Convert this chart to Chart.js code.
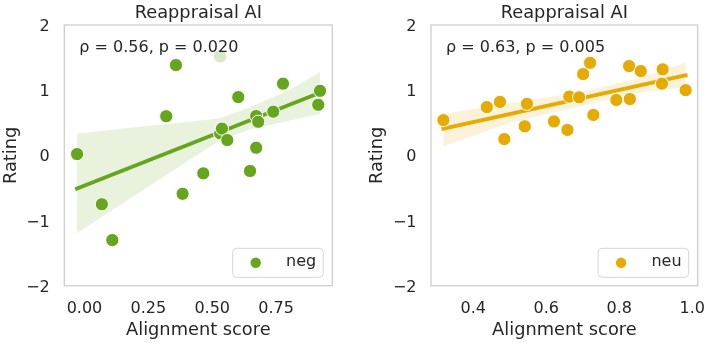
<!DOCTYPE html>
<html><head><meta charset="utf-8">
<script src="https://cdn.jsdelivr.net/npm/chart.js@4.4.1/dist/chart.umd.min.js"></script>
<style>
html,body{margin:0;padding:0;background:#fff;}
#wrap{position:relative;width:708px;height:343px;background:#fff;}
canvas{position:absolute;top:0;}
#c1{left:0}
#c2{left:354px}
</style></head><body>
<div id="wrap"><canvas id="c1" width="354" height="343"></canvas><canvas id="c2" width="354" height="343"></canvas></div>
<script>
// ---- shared text / ticks ----
const titleText = "Reappraisal AI";
const xAxisLabel = "Alignment score";
const yAxisLabel = "Rating";
const yTickValues = [-2, -1, 0, 1, 2];
const yTickLabels = ["−2", "−1", "0", "1", "2"];

// ---- panel 1: neg ----
const negLabel = "neg";
const negStats = "ρ = 0.56, p = 0.020";
const negX = [-0.029, 0.068, 0.109, 0.320, 0.358, 0.384, 0.465, 0.531, 0.538, 0.559, 0.602, 0.648, 0.672, 0.672, 0.680, 0.739, 0.777, 0.915, 0.922];
const negY = [0.02, -0.75, -1.30, 0.60, 1.385, -0.59, -0.276, 0.337, 0.41, 0.235, 0.894, -0.24, 0.117, 0.603, 0.515, 0.67, 1.10, 0.776, 0.99];
const negFadedX = [0.531];
const negFadedY = [1.52];
const negLineX = [-0.029, 0.922];
const negLineY = [-0.51, 0.96];
const negBandX = [-0.029, 0.2, 0.4, 0.53, 0.65, 0.8, 0.922];
const negBandHigh = [0.33, 0.43, 0.51, 0.57, 0.74, 1.0, 1.28];
const negBandLow = [-1.19, -0.61, -0.10, 0.23, 0.40, 0.53, 0.64];
const negXTicks = [0, 0.25, 0.5, 0.75];
const negXTickLabels = ["0.00", "0.25", "0.50", "0.75"];
const negXRange = [-0.079, 0.970];

// ---- panel 2: neu ----
const neuLabel = "neu";
const neuStats = "ρ = 0.63, p = 0.005";
const neuX = [0.318, 0.437, 0.473, 0.485, 0.541, 0.547, 0.621, 0.658, 0.663, 0.690, 0.701, 0.720, 0.729, 0.792, 0.827, 0.829, 0.859, 0.919, 0.917, 0.982];
const neuY = [0.54, 0.74, 0.82, 0.25, 0.445, 0.79, 0.52, 0.39, 0.90, 0.89, 1.247, 1.42, 0.62, 0.85, 1.37, 0.864, 1.293, 1.32, 1.10, 1.0];
const neuFadedX = [];
const neuFadedY = [];
const neuLineX = [0.318, 0.982];
const neuLineY = [0.41, 1.23];
const neuBandX = [0.318, 0.5, 0.69, 0.85, 0.982];
const neuBandHigh = [0.64, 0.80, 0.97, 1.18, 1.42];
const neuBandLow = [0.14, 0.50, 0.75, 0.96, 1.05];
const neuXTicks = [0.4, 0.6, 0.8, 1.0];
const neuXTickLabels = ["0.4", "0.6", "0.8", "1.0"];
const neuXRange = [0.284, 1.015];

const FONT = '"DejaVu Sans", "Liberation Sans", sans-serif';
const TEXT = '#262626';

function pts(xs, ys) { return xs.map((x, i) => ({x: x, y: ys[i]})); }

function makeChart(id, cfg) {
  const overlay = {
    id: 'overlay',
    afterDraw(chart) {
      const ctx = chart.ctx, ca = chart.chartArea;
      const xs = chart.scales.x, ys = chart.scales.y;
      ctx.save();
      // frame
      ctx.strokeStyle = '#cccccc';
      ctx.lineWidth = 1.25;
      ctx.strokeRect(ca.left, ca.top, ca.right - ca.left, ca.bottom - ca.top);
      ctx.fillStyle = TEXT;
      // tick labels
      ctx.font = '16px ' + FONT;
      ctx.textBaseline = 'alphabetic';
      ctx.textAlign = 'right';
      yTickValues.forEach((v, i) => {
        ctx.fillText(yTickLabels[i], ca.left - 14.5, ys.getPixelForValue(v) + 6);
      });
      ctx.textAlign = 'center';
      cfg.xt.forEach((v, i) => {
        ctx.fillText(cfg.xtl[i], xs.getPixelForValue(v), ca.bottom + 27.6);
      });
      // title
      ctx.font = '17.8px ' + FONT;
      ctx.fillText(titleText, (ca.left + ca.right) / 2, 18);
      // stats annotation
      ctx.font = '16px ' + FONT;
      ctx.textAlign = 'left';
      ctx.fillText(cfg.stats, ca.left + 15, ca.top + 26.7);
      // legend
      const bw = 90.6, bh = 29;
      const bx = ca.right - 9 - bw, by = ca.bottom - 8.4 - bh;
      ctx.beginPath();
      ctx.roundRect(bx, by, bw, bh, 4);
      ctx.fillStyle = 'rgba(255,255,255,0.8)';
      ctx.fill();
      ctx.strokeStyle = 'rgba(204,204,204,0.8)';
      ctx.lineWidth = 1;
      ctx.stroke();
      ctx.beginPath();
      ctx.arc(bx + 23, by + bh / 2, 5.2, 0, Math.PI * 2);
      ctx.fillStyle = cfg.color;
      ctx.fill();
      ctx.fillStyle = TEXT;
      ctx.font = '16px ' + FONT;
      ctx.fillText(cfg.label, bx + 53.3, by + 17.7);
      ctx.restore();
    }
  };
  return new Chart(document.getElementById(id), {
    type: 'scatter',
    data: {
      datasets: [
        {label: cfg.label, data: pts(cfg.x, cfg.y), backgroundColor: cfg.color, borderColor: '#ffffff', borderWidth: 1, pointRadius: 6.6, order: 0},
        {label: 'faded', data: pts(cfg.fx, cfg.fy), backgroundColor: cfg.faded, borderColor: 'rgba(255,255,255,0.6)', borderWidth: 1, pointRadius: 6.6, order: 1},
        {label: 'fit', data: pts(cfg.lx, cfg.ly), showLine: true, borderColor: cfg.color, borderWidth: 3.8, borderCapStyle: 'square', pointRadius: 0, order: 2},
        {label: 'hi', data: pts(cfg.bx, cfg.bh), showLine: true, borderWidth: 0, borderColor: 'rgba(0,0,0,0)', pointRadius: 0, fill: '+1', backgroundColor: cfg.band, order: 3},
        {label: 'lo', data: pts(cfg.bx, cfg.bl), showLine: true, borderWidth: 0, borderColor: 'rgba(0,0,0,0)', pointRadius: 0, fill: false, order: 4}
      ]
    },
    options: {
      responsive: false,
      animation: false,
      devicePixelRatio: 1,
      events: [],
      layout: {padding: {top: 25, right: cfg.padRight, bottom: 0, left: cfg.padLeft}},
      plugins: {legend: {display: false}, tooltip: {enabled: false}, title: {display: false}},
      scales: {
        x: {
          type: 'linear', min: cfg.xr[0], max: cfg.xr[1],
          grid: {display: false, drawTicks: false},
          border: {display: false},
          ticks: {display: false},
          afterBuildTicks: (s) => { s.ticks = cfg.xt.map(v => ({value: v})); },
          title: {display: true, text: xAxisLabel, color: TEXT, font: {family: FONT, size: 17.8, lineHeight: 1}, padding: {top: 0, bottom: 4}},
          afterFit: (s) => { s.height = 57.3; s.paddingLeft = 0; s.paddingRight = 0; }
        },
        y: {
          type: 'linear', min: -2, max: 2,
          grid: {display: false, drawTicks: false},
          border: {display: false},
          ticks: {display: false},
          afterBuildTicks: (s) => { s.ticks = yTickValues.map(v => ({value: v})); },
          title: {display: true, text: yAxisLabel, color: TEXT, font: {family: FONT, size: 17.8, lineHeight: 1}, padding: {top: 2, bottom: 0}},
          afterFit: (s) => { s.width = cfg.yWidth; s.paddingTop = 0; s.paddingBottom = 0; }
        }
      }
    },
    plugins: [overlay]
  });
}

makeChart('c1', {
  label: negLabel, stats: negStats, color: '#66a61e', faded: 'rgba(102,166,30,0.25)', band: 'rgba(102,166,30,0.15)',
  x: negX, y: negY, fx: negFadedX, fy: negFadedY, lx: negLineX, ly: negLineY,
  bx: negBandX, bh: negBandHigh, bl: negBandLow, xt: negXTicks, xtl: negXTickLabels, xr: negXRange,
  padLeft: 0, padRight: 21.7, yWidth: 64.3
});
makeChart('c2', {
  label: neuLabel, stats: neuStats, color: '#e6ab02', faded: 'rgba(230,171,2,0.25)', band: 'rgba(230,171,2,0.15)',
  x: neuX, y: neuY, fx: neuFadedX, fy: neuFadedY, lx: neuLineX, ly: neuLineY,
  bx: neuBandX, bh: neuBandHigh, bl: neuBandLow, xt: neuXTicks, xtl: neuXTickLabels, xr: neuXRange,
  padLeft: 12, padRight: 10.3, yWidth: 65
});
</script>
</body></html>
